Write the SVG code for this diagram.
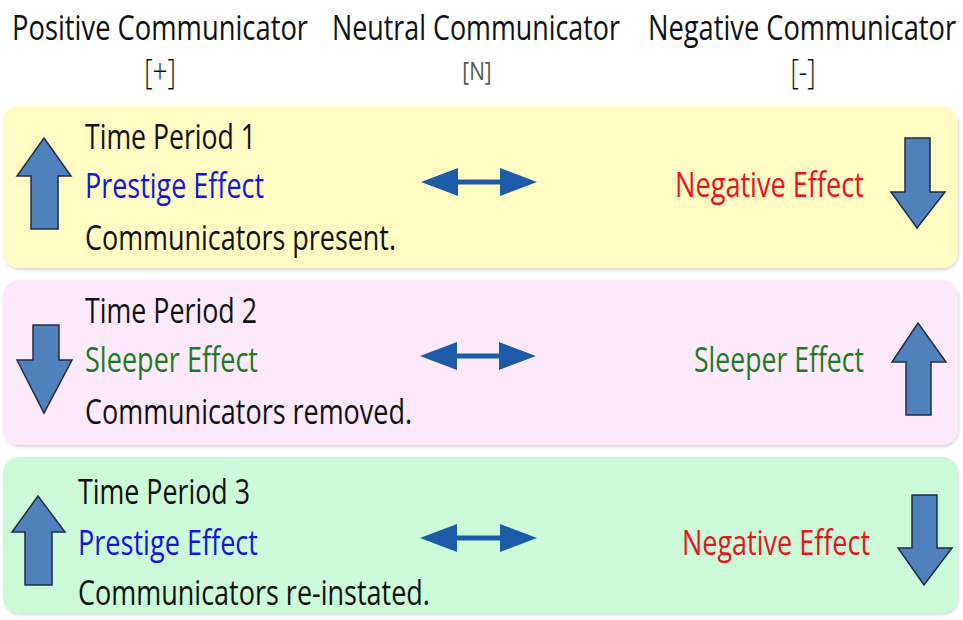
<svg xmlns="http://www.w3.org/2000/svg" width="963" height="620" viewBox="0 0 963 620">
<style>
  .t { font-family: "Open Sans", "Noto Sans", "Liberation Sans", sans-serif; font-size: 35px; fill: #111; }
  .blue { fill: #1414E6; }
  .green { fill: #1E7A22; }
  .red { fill: #E8141E; }
  .arr { fill: #4F81BD; stroke: #1F2D45; stroke-width: 1.5; stroke-linejoin: miter; }
  .dbl { fill: #1C5BA8; }
</style>
<defs>
  <filter id="sh" x="-5%" y="-5%" width="110%" height="115%">
    <feDropShadow dx="1" dy="2" stdDeviation="1.5" flood-color="#000" flood-opacity="0.15"/>
  </filter>
</defs>
<rect width="963" height="620" fill="#ffffff"/>

<g id="headers">
  <text class="t" transform="translate(12,40) scale(0.75,1)" textLength="394.7" lengthAdjust="spacingAndGlyphs">Positive Communicator</text>
  <text class="t" transform="translate(332,40) scale(0.75,1)" textLength="384" lengthAdjust="spacingAndGlyphs">Neutral Communicator</text>
  <text class="t" transform="translate(648,40) scale(0.75,1)" textLength="410.7" lengthAdjust="spacingAndGlyphs">Negative Communicator</text>
  <text class="t" transform="translate(160,84) scale(0.75,1)" text-anchor="middle" style="font-weight:300">[+]</text>
  <text class="t" transform="translate(477,80) scale(0.8,1)" text-anchor="middle" style="font-size:26px;fill:#555">[N]</text>
  <text class="t" transform="translate(803,84) scale(0.75,1)" text-anchor="middle" style="font-weight:300">[-]</text>
</g>

<g id="period1">
  <rect x="3" y="106" width="955" height="162" rx="16" fill="#FFFBC2" filter="url(#sh)"/>
  <polygon class="arr" points="44,138 71,176 58,176 58,229 31,229 31,176 17,176"/>
  <text class="t" transform="translate(85,149) scale(0.75,1)" textLength="228" lengthAdjust="spacingAndGlyphs">Time Period 1</text>
  <text class="t blue" transform="translate(85,198) scale(0.75,1)" textLength="238.7" lengthAdjust="spacingAndGlyphs">Prestige Effect</text>
  <text class="t" transform="translate(85,250) scale(0.75,1)" textLength="414.7" lengthAdjust="spacingAndGlyphs">Communicators present.</text>
  <text class="t red" transform="translate(675,197) scale(0.75,1)" textLength="252" lengthAdjust="spacingAndGlyphs">Negative Effect</text>
  <polygon class="arr" points="905,138 930,138 930,192 945,192 917,228 891,192 905,192"/>
</g>

<g id="period2">
  <rect x="3" y="280" width="955" height="165" rx="16" fill="#FCE9FC" filter="url(#sh)"/>
  <polygon class="arr" points="33,325 59,325 59,360 72,360 44,413 17,360 33,360"/>
  <text class="t" transform="translate(85,323) scale(0.75,1)" textLength="229.3" lengthAdjust="spacingAndGlyphs">Time Period 2</text>
  <text class="t green" transform="translate(85,372) scale(0.75,1)" textLength="230.7" lengthAdjust="spacingAndGlyphs">Sleeper Effect</text>
  <text class="t" transform="translate(85,424) scale(0.75,1)" textLength="436" lengthAdjust="spacingAndGlyphs">Communicators removed.</text>
  <text class="t green" transform="translate(694,372) scale(0.75,1)" textLength="226.7" lengthAdjust="spacingAndGlyphs">Sleeper Effect</text>
  <polygon class="arr" points="918,323 946,362 931,362 931,415 906,415 906,362 892,362"/>
</g>

<g id="period3">
  <rect x="3" y="457" width="955" height="156" rx="16" fill="#CCFAD8" filter="url(#sh)"/>
  <polygon class="arr" points="38,496 65,532 52,532 52,585 25,585 25,532 12,532"/>
  <text class="t" transform="translate(78,504) scale(0.75,1)" textLength="229.3" lengthAdjust="spacingAndGlyphs">Time Period 3</text>
  <text class="t blue" transform="translate(78,555) scale(0.75,1)" textLength="240" lengthAdjust="spacingAndGlyphs">Prestige Effect</text>
  <text class="t" transform="translate(78,605) scale(0.75,1)" textLength="469.3" lengthAdjust="spacingAndGlyphs">Communicators re-instated.</text>
  <text class="t red" transform="translate(682,555) scale(0.75,1)" textLength="250.7" lengthAdjust="spacingAndGlyphs">Negative Effect</text>
  <polygon class="arr" points="912,495 937,495 937,548 952,548 924,585 898,548 912,548"/>
</g>

<g id="connectors">
  <polygon class="dbl" points="421,182 458,168 458,179.5 500,179.5 500,168 537,182 500,196 500,184.5 458,184.5 458,196"/>
  <polygon class="dbl" points="420,356 457,342 457,353.5 499,353.5 499,342 536,356 499,370 499,358.5 457,358.5 457,370"/>
  <polygon class="dbl" points="420,538 457,524 457,535.5 500,535.5 500,524 537,538 500,552 500,540.5 457,540.5 457,552"/>
</g>
</svg>
